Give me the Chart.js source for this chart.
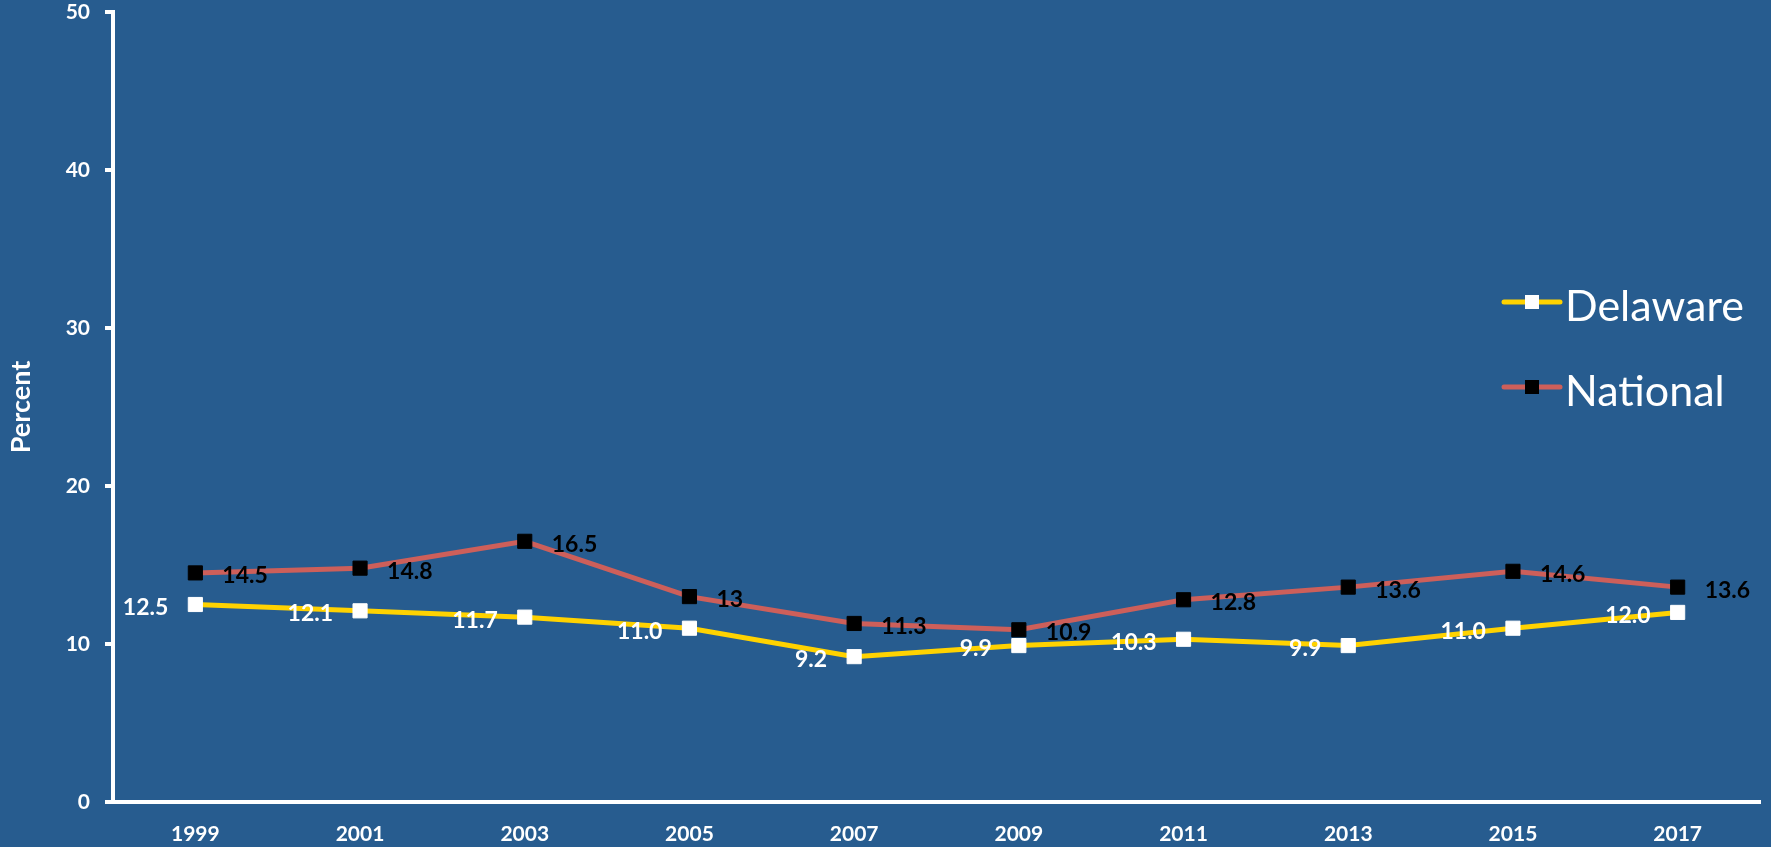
<!DOCTYPE html>
<html>
<head>
<meta charset="utf-8">
<title>Delaware vs National</title>
<script src="https://cdn.jsdelivr.net/npm/chart.js@4.4.1/dist/chart.umd.min.js"></script>
<style>
  html, body { margin: 0; padding: 0; background: #275c8f; overflow: hidden; }
  #wrap { width: 1771px; height: 847px; }
</style>
</head>
<body>
<div id="wrap"><canvas id="trend-chart" width="1771" height="847"></canvas></div>
<script>
// data
const years = ['1999', '2001', '2003', '2005', '2007', '2009', '2011', '2013', '2015', '2017'];
const delaware = [12.5, 12.1, 11.7, 11.0, 9.2, 9.9, 10.3, 9.9, 11.0, 12.0];
const national = [14.5, 14.8, 16.5, 13, 11.3, 10.9, 12.8, 13.6, 14.6, 13.6];
const yTicks = [0, 10, 20, 30, 40, 50];

const FONT = 'Lato, "Open Sans", sans-serif';
const WHITE = '#ffffff';

// value labels next to each point
const valueLabels = {
  id: 'valueLabels',
  afterDatasetsDraw(chart) {
    const ctx = chart.ctx;
    ctx.save();
    ctx.font = 'bold 23px ' + FONT;
    ctx.textBaseline = 'middle';
    chart.data.datasets.forEach((ds, i) => {
      const meta = chart.getDatasetMeta(i);
      meta.data.forEach((pt, j) => {
        const txt = ds.labelFormat(ds.data[j]);
        ctx.fillStyle = ds.labelColor;
        if (ds.labelSide === 'left') {
          ctx.textAlign = 'right';
          ctx.fillText(txt, pt.x - 27, pt.y + 3);
        } else {
          ctx.textAlign = 'left';
          ctx.fillText(txt, pt.x + 27, pt.y + 3);
        }
      });
    });
    ctx.restore();
  }
};

// legend sits inside the plot on the right
const insideLegend = {
  id: 'insideLegend',
  afterDraw(chart) {
    const ctx = chart.ctx;
    const area = chart.chartArea;
    const x0 = area.right - 256;
    let y = area.top + 290;
    ctx.save();
    chart.data.datasets.forEach(ds => {
      ctx.strokeStyle = ds.borderColor;
      ctx.lineWidth = 5;
      ctx.lineCap = 'round';
      ctx.beginPath();
      ctx.moveTo(x0, y);
      ctx.lineTo(x0 + 56, y);
      ctx.stroke();
      ctx.fillStyle = ds.pointBackgroundColor;
      ctx.fillRect(x0 + 28 - 7, y - 7, 14, 14);
      ctx.fillStyle = WHITE;
      ctx.font = '43px ' + FONT;
      ctx.textAlign = 'left';
      ctx.textBaseline = 'alphabetic';
      ctx.fillText(ds.label, x0 + 61, y + 19);
      y += 85;
    });
    ctx.restore();
  }
};

new Chart(document.getElementById('trend-chart').getContext('2d'), {
  type: 'line',
  data: {
    labels: years,
    datasets: [{
      label: 'Delaware',
      data: delaware,
      borderColor: '#ffd200',
      borderWidth: 5,
      pointStyle: 'rect',
      pointRadius: 10,
      pointBorderWidth: 1,
      pointBackgroundColor: '#ffffff',
      pointBorderColor: '#ffffff',
      tension: 0,
      labelSide: 'left',
      labelColor: '#ffffff',
      labelFormat: v => v.toFixed(1)
    }, {
      label: 'National',
      data: national,
      borderColor: '#cd5f5a',
      borderWidth: 5,
      pointStyle: 'rect',
      pointRadius: 10,
      pointBorderWidth: 1,
      pointBackgroundColor: '#000000',
      pointBorderColor: '#000000',
      tension: 0,
      labelSide: 'right',
      labelColor: '#000000',
      labelFormat: v => String(v)
    }]
  },
  options: {
    responsive: false,
    animation: false,
    layout: { padding: { top: 12, right: 9, left: 0, bottom: 0 } },
    plugins: {
      legend: { display: false },
      tooltip: { enabled: false }
    },
    scales: {
      x: {
        offset: true,
        grid: { display: false, drawTicks: false },
        border: { display: true, color: WHITE, width: 4 },
        ticks: { color: WHITE, font: { family: FONT, size: 21, weight: 'bold' }, padding: 20 },
        afterFit(scale) { scale.height = 45; }
      },
      y: {
        min: 0,
        max: 50,
        afterBuildTicks(scale) { scale.ticks = yTicks.map(v => ({ value: v })); },
        grid: { display: true, drawOnChartArea: false, drawTicks: true, tickLength: 8, color: WHITE, lineWidth: 4 },
        border: { display: true, color: WHITE, width: 4 },
        ticks: { color: WHITE, font: { family: FONT, size: 21, weight: 'bold' }, padding: 15 },
        title: {
          display: true,
          text: 'Percent',
          color: WHITE,
          font: { family: FONT, size: 27, weight: 'bold' },
          padding: { top: 5, bottom: 0 }
        },
        afterFit(scale) {
          scale.width = 113;
          scale.paddingTop = 0;
          scale.paddingBottom = 0;
        }
      }
    }
  },
  plugins: [valueLabels, insideLegend]
});
</script>
</body>
</html>
